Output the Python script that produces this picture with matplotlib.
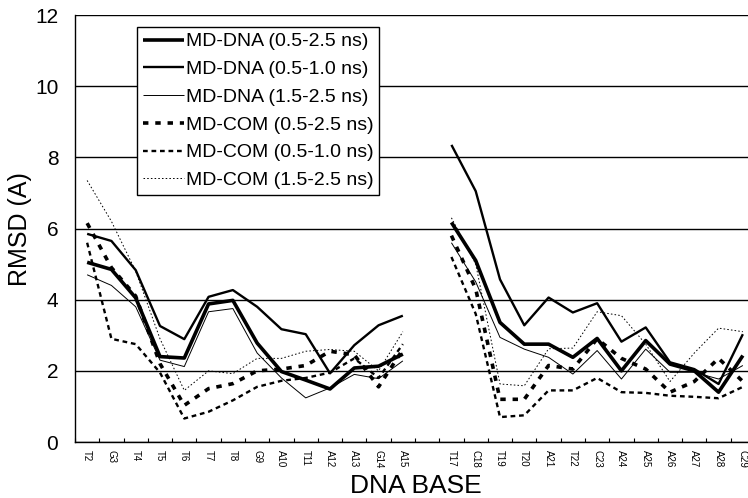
import numpy as np
import matplotlib
matplotlib.use("Agg")
import matplotlib.pyplot as plt
from matplotlib.ticker import FixedLocator

# ---------------- data ----------------
left_bases = ["T2", "G3", "T4", "T5", "T6", "T7", "T8", "G9", "A10", "T11", "A12", "A13", "G14", "A15"]
right_bases = ["T17", "C18", "T19", "T20", "A21", "T22", "C23", "A24", "A25", "A26", "A27", "A28", "C29"]

series_labels = [
    "MD-DNA (0.5-2.5 ns)",
    "MD-DNA (0.5-1.0 ns)",
    "MD-DNA (1.5-2.5 ns)",
    "MD-COM (0.5-2.5 ns)",
    "MD-COM (0.5-1.0 ns)",
    "MD-COM (1.5-2.5 ns)",
]

dna_all_left = [5.05, 4.85, 4.05, 2.40, 2.36, 3.88, 3.98, 2.78, 1.98, 1.74, 1.49, 2.08, 2.13, 2.47]
dna_all_right = [6.17, 5.10, 3.36, 2.75, 2.75, 2.38, 2.91, 2.00, 2.85, 2.19, 2.00, 1.40, 2.43]

dna_early_left = [5.85, 5.65, 4.83, 3.26, 2.89, 4.08, 4.27, 3.80, 3.17, 3.03, 1.93, 2.72, 3.28, 3.55]
dna_early_right = [8.35, 7.05, 4.57, 3.28, 4.06, 3.64, 3.90, 2.82, 3.22, 2.24, 2.05, 1.63, 3.03]

dna_late_left = [4.70, 4.40, 3.80, 2.30, 2.12, 3.66, 3.75, 2.50, 1.80, 1.24, 1.52, 1.90, 1.78, 2.28]
dna_late_right = [5.60, 4.50, 2.94, 2.61, 2.38, 1.91, 2.57, 1.77, 2.61, 1.96, 1.96, 1.77, 2.15]

com_all_left = [6.15, 4.90, 4.10, 2.20, 1.03, 1.50, 1.64, 2.00, 2.05, 2.15, 2.55, 2.45, 1.55, 2.60]
com_all_right = [5.80, 4.30, 1.20, 1.20, 2.15, 2.05, 2.90, 2.35, 2.05, 1.40, 1.70, 2.35, 1.70]

com_early_left = [5.60, 2.90, 2.75, 1.95, 0.66, 0.85, 1.17, 1.55, 1.72, 1.80, 1.95, 2.35, 1.80, 2.75]
com_early_right = [5.20, 3.60, 0.70, 0.75, 1.45, 1.45, 1.80, 1.40, 1.38, 1.30, 1.27, 1.23, 1.55]

com_late_left = [7.35, 6.20, 4.80, 2.90, 1.45, 2.00, 1.92, 2.35, 2.35, 2.55, 2.60, 2.55, 2.00, 3.10]
com_late_right = [6.30, 5.00, 1.63, 1.58, 2.62, 2.64, 3.66, 3.55, 2.75, 1.70, 2.50, 3.20, 3.10]

left_groups = [dna_all_left, dna_early_left, dna_late_left, com_all_left, com_early_left, com_late_left]
right_groups = [dna_all_right, dna_early_right, dna_late_right, com_all_right, com_early_right, com_late_right]

# ---------------- styles ----------------
styles = [
    dict(lw=2.6, ls="-"),
    dict(lw=1.7, ls="-"),
    dict(lw=0.7, ls="-"),
    dict(lw=2.6, ls=(0, (1.5, 1.9))),
    dict(lw=1.7, ls=(0, (2.0, 1.6))),
    dict(lw=0.7, ls=(0, (1.6, 2.2))),
]

FONT = ["Liberation Sans", "DejaVu Sans"]

tick_labels = left_bases + [""] + right_bases
x = np.arange(len(tick_labels))

fig = plt.figure(figsize=(7.48, 4.98), dpi=100)
ax = fig.add_axes([75 / 748, 56 / 498, 680 / 748, 427 / 498])

for lv, rv, st, lab in zip(left_groups, right_groups, styles, series_labels):
    vals = np.array(list(lv) + [np.nan] + list(rv), dtype=float)
    ax.plot(x, vals, color="black", linewidth=st["lw"], linestyle=st["ls"],
            label=lab, solid_capstyle="butt", dash_capstyle="butt", zorder=3)

ax.set_xlim(-0.5, len(tick_labels) - 0.5)
ax.set_ylim(0, 12)
ax.set_yticks(np.arange(0, 13, 2))
ax.set_yticklabels([str(v) for v in range(0, 13, 2)], fontsize=15, family=FONT)
ax.tick_params(axis="y", length=0, pad=12)

ax.set_xticks(x)
ax.set_xticklabels(tick_labels, rotation=-90, fontsize=7, family=FONT, va="top", ha="center")
ax.tick_params(axis="x", which="major", length=0, pad=6)
ax.xaxis.set_minor_locator(FixedLocator(np.arange(-0.5, len(tick_labels), 1.0)))
ax.tick_params(axis="x", which="minor", direction="in", length=3, width=0.8)

ax.yaxis.grid(True, color="black", linewidth=1.0)
ax.set_axisbelow(True)
for s in ["top", "right"]:
    ax.spines[s].set_visible(False)
for s in ["left", "bottom"]:
    ax.spines[s].set_linewidth(1.0)
    ax.spines[s].set_color("black")

leg = ax.legend(loc="upper left", bbox_to_anchor=((137 - 75) / 680, (442 - 27) / 427),
                borderaxespad=0, frameon=True, fancybox=False, framealpha=1,
                edgecolor="black", handlelength=2.1, handletextpad=0.1,
                labelspacing=0.52, borderpad=0.3,
                prop={"family": FONT, "size": 14})
leg.get_frame().set_linewidth(1.0)

fig.text(20 / 748, 1 - 229 / 498, "RMSD (A)", rotation=90, ha="center", va="center",
         fontsize=18, family=FONT)
fig.text(416 / 748, 1 - 493 / 498, "DNA BASE", ha="center", va="baseline",
         fontsize=19, family=FONT)

fig.savefig("out.png", dpi=100)
